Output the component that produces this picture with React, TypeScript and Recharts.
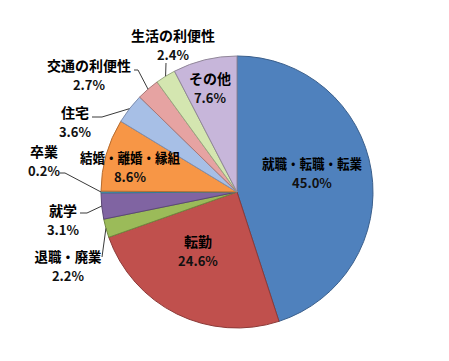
import { Cell, Pie, PieChart } from 'recharts'

const categories = [
  '就職・転職・転業',
  '転勤',
  '退職・廃業',
  '就学',
  '卒業',
  '結婚・離婚・縁組',
  '住宅',
  '交通の利便性',
  '生活の利便性',
  'その他',
]
const shares = [45.0, 24.6, 2.2, 3.1, 0.2, 8.6, 3.6, 2.7, 2.4, 7.6]

const data = categories.map((name, i) => ({ name, value: shares[i] }))

const FILLS = ['#4f81bd', '#c0504d', '#9bbb59', '#8064a2', '#4bacc6', '#f79646', '#a7bfe6', '#e6a3a2', '#d4e6b0', '#c7b6da']
const STROKES = ['#3a5f8c', '#8c3a38', '#71893f', '#5c4876', '#357d91', '#b66d31', '#7f8fb0', '#a87877', '#9aa881', '#918799']

// label spot (centre of first line, relative to pie centre) and leader-line bends
const LABELS: { dx: number; dy: number; w?: number; line?: [number, number][] }[] = [
  { dx: 75, dy: -29, w: 100 },
  { dx: -39, dy: 49 },
  { dx: -169, dy: 64, w: 67, line: [[-135, 65]] },
  { dx: -174, dy: 18, line: [[-150, 21], [-157, 21]] },
  { dx: -193, dy: -41, line: [[-172, -19], [-177, -19]] },
  { dx: -107, dy: -35, w: 100 },
  { dx: -162, dy: -80, line: [[-135, -75], [-145, -75]] },
  { dx: -148, dy: -127, line: [[-99, -122], [-103, -122]] },
  { dx: -64, dy: -157, line: [[-71, -129]] },
  { dx: -27, dy: -114 },
]

const RAD = Math.PI / 180
const FONT = '"Noto Sans CJK JP", "Noto Sans", sans-serif'

function renderLabel(props: any) {
  const { cx, cy, midAngle, outerRadius, index, name, value } = props
  const l = LABELS[index]
  const x = cx + l.dx
  const y = cy + l.dy
  let path = ''
  if (l.line) {
    const ex = cx + outerRadius * Math.cos(-midAngle * RAD)
    const ey = cy + outerRadius * Math.sin(-midAngle * RAD)
    path = `M${ex},${ey}` + l.line.map(([px, py]) => `L${cx + px},${cy + py}`).join('')
  }
  return (
    <g key={`lbl-${index}`}>
      {path && <path d={path} stroke="#3a3a3a" strokeWidth={1} fill="none" />}
      <text
        x={x}
        y={y}
        textAnchor="middle"
        dominantBaseline="central"
        fontFamily={FONT}
        fontWeight="bold"
        fontSize={14}
        fill="#000"
        {...(l.w ? { textLength: l.w, lengthAdjust: 'spacingAndGlyphs' } : {})}
      >
        {name}
      </text>
      <text
        x={x}
        y={y + 19}
        textAnchor="middle"
        dominantBaseline="central"
        fontFamily={FONT}
        fontWeight="bold"
        fontSize={13}
        fill="#111"
      >
        {value.toFixed(1)}%
      </text>
    </g>
  )
}

export default function App() {
  return (
    <div style={{ position: 'absolute', left: 0, top: 0, background: '#fff' }}>
      <PieChart width={449} height={361} margin={{ top: 0, right: 0, bottom: 0, left: 0 }}>
        <Pie
          data={data}
          dataKey="value"
          nameKey="name"
          cx={237}
          cy={192}
          outerRadius={136}
          startAngle={90}
          endAngle={-270}
          label={renderLabel}
          labelLine={false}
          isAnimationActive={false}
        >
          {data.map((d, i) => (
            <Cell key={d.name} fill={FILLS[i]} stroke={STROKES[i]} strokeWidth={1} />
          ))}
        </Pie>
      </PieChart>
    </div>
  )
}
